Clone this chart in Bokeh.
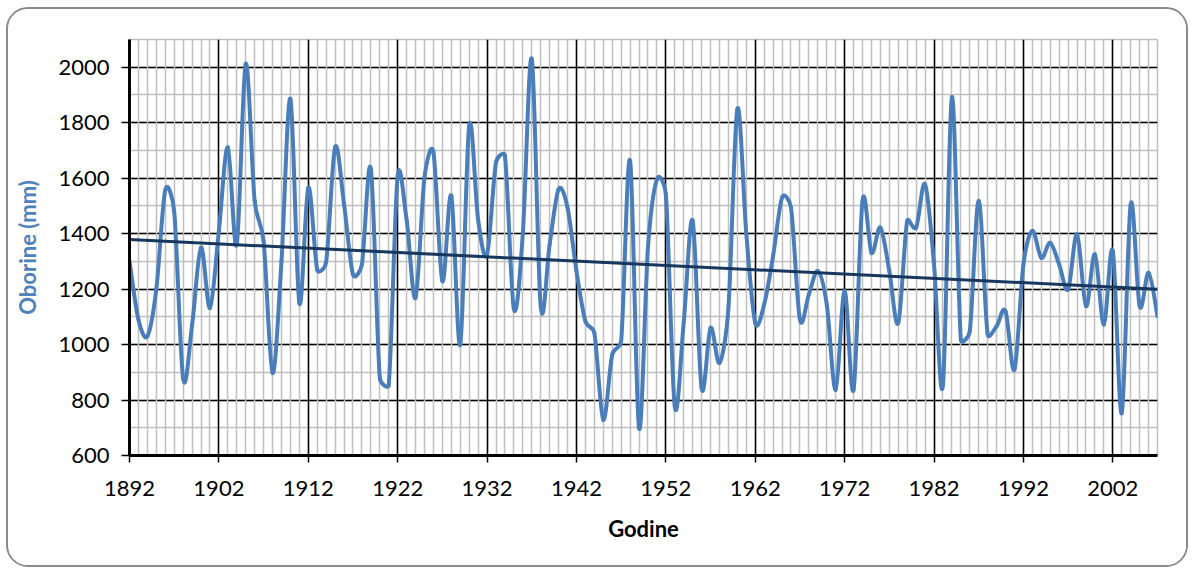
import numpy as np
from bokeh.plotting import figure
from bokeh.models import FixedTicker, Grid, ColumnDataSource
from bokeh.embed import file_html
from bokeh.resources import INLINE

years = list(range(1892, 2008))
precip = [
    1300, 1090, 1030, 1200, 1557, 1480, 878, 1070, 1350, 1132,   # 1892-1901
    1410, 1711, 1361, 2012, 1518, 1373, 898, 1300, 1886, 1150,   # 1902-1911
    1566, 1270, 1298, 1711, 1506, 1253, 1289, 1633, 880, 855,    # 1912-1921
    1608, 1450, 1169, 1602, 1693, 1229, 1536, 1000, 1789, 1450,  # 1922-1931
    1325, 1657, 1681, 1128, 1400, 2030, 1138, 1361, 1560, 1494,  # 1932-1941
    1265, 1084, 1042, 729, 964, 1012, 1663, 699, 1350, 1596,     # 1942-1951
    1542, 777, 1080, 1446, 843, 1060, 934, 1132, 1849, 1400,     # 1952-1961
    1078, 1145, 1320, 1530, 1494, 1090, 1181, 1265, 1145, 837,   # 1962-1971
    1193, 837, 1518, 1331, 1422, 1265, 1078, 1446, 1422, 1578,   # 1972-1981
    1289, 855, 1892, 1018, 1048, 1518, 1036, 1066, 1120, 910,    # 1982-1991
    1289, 1410, 1313, 1367, 1289, 1199, 1398, 1139, 1325, 1072,  # 1992-2001
    1337, 753, 1506, 1139, 1259, 1102,                           # 2002-2007
]
x_labels = [1892, 1902, 1912, 1922, 1932, 1942, 1952, 1962, 1972, 1982, 1992, 2002]
y_ticks = [600, 800, 1000, 1200, 1400, 1600, 1800, 2000]

FONT = "Lato"

p = figure(width=1182, height=560, x_range=(1892, 2007), y_range=(600, 2100),
           output_backend="svg", toolbar_location=None,
           min_border_left=121, min_border_right=33, min_border_top=30, min_border_bottom=114,
           background_fill_color="white", border_fill_color="white")
p.styles = {"border": "2px solid #8a8a8a", "border-radius": "22px", "overflow": "hidden",
            "margin-left": "6px", "margin-top": "7px"}
p.outline_line_color = "#BFBFBF"
p.outline_line_width = 1.5

p.xgrid.visible = False
p.ygrid.visible = False

xt = FixedTicker(ticks=x_labels, minor_ticks=years)
yt = FixedTicker(ticks=y_ticks, minor_ticks=list(range(600, 2101, 100)))

ygrid = Grid(dimension=1, ticker=yt, grid_line_color="black", grid_line_width=1.5,
             minor_grid_line_color="#BFBFBF", minor_grid_line_width=1.5)
xgrid = Grid(dimension=0, ticker=xt, grid_line_color="black", grid_line_width=1.5,
             minor_grid_line_color="#BFBFBF", minor_grid_line_width=1.5)
p.add_layout(ygrid)
p.add_layout(xgrid)

# Excel-style smoothed line: Bezier segments, control arms 1/6 of neighbour chord,
# capped at half the segment length (measured in screen proportions)
SX, SY = 8.936, 0.2764  # screen px per year / per mm, only for arm capping
xs = np.array(years, dtype=float)
ys = np.array(precip, dtype=float)
xp = np.concatenate([[xs[0]], xs, [xs[-1]]])
yp = np.concatenate([[ys[0]], ys, [ys[-1]]])


def dist(i, j):
    return np.hypot((xp[i] - xp[j]) * SX, (yp[i] - yp[j]) * SY)


segs = {k: [] for k in ("x0", "y0", "x1", "y1", "cx0", "cy0", "cx1", "cy1")}
n = len(xs)
for s in range(n - 1):
    i0, i1, i2, i3 = s, s + 1, s + 2, s + 3
    d12 = dist(i1, i2)
    d02 = dist(i0, i2)
    d13 = dist(i1, i3)
    f0 = 1 / 6 if (d02 / 6 < d12 / 2 or d02 == 0) else d12 / d02 / 2
    f3 = 1 / 6 if (d13 / 6 < d12 / 2 or d13 == 0) else d12 / d13 / 2
    segs["x0"].append(xp[i1]); segs["y0"].append(yp[i1])
    segs["x1"].append(xp[i2]); segs["y1"].append(yp[i2])
    segs["cx0"].append(xp[i1] + f0 * (xp[i2] - xp[i0]))
    segs["cy0"].append(yp[i1] + f0 * (yp[i2] - yp[i0]))
    segs["cx1"].append(xp[i2] - f3 * (xp[i3] - xp[i1]))
    segs["cy1"].append(yp[i2] - f3 * (yp[i3] - yp[i1]))
src = ColumnDataSource(segs)
p.bezier(x0="x0", y0="y0", x1="x1", y1="y1", cx0="cx0", cy0="cy0", cx1="cx1", cy1="cy1",
         source=src, line_color="#4A7EBB", line_width=4, line_cap="round")

# linear trend
k, b = np.polyfit(xs, ys, 1)
p.line([xs[0], xs[-1]], [k * xs[0] + b, k * xs[-1] + b], line_color="#17375E", line_width=3)

for ax in (p.xaxis[0], p.yaxis[0]):
    ax.axis_line_color = "black"
    ax.axis_line_width = 3
    ax.major_tick_line_color = "black"
    ax.major_tick_line_width = 1.5
    ax.major_tick_in = 0
    ax.major_tick_out = 7
    ax.minor_tick_line_color = None
    ax.major_label_text_font = FONT
    ax.major_label_text_font_size = "22px"
    ax.major_label_text_color = "black"
    ax.axis_label_text_font = FONT
    ax.axis_label_text_font_style = "bold"
    ax.axis_label_text_font_size = "22px"

p.xaxis[0].ticker = xt
p.yaxis[0].ticker = yt
p.yaxis[0].major_tick_out = 8
p.xaxis[0].major_label_standoff = 18
p.yaxis[0].major_label_standoff = 12
p.xaxis[0].axis_label = "Godine"
p.xaxis[0].axis_label_standoff = 16
p.xaxis[0].axis_label_text_color = "black"
p.yaxis[0].axis_label = "Oborine (mm)"
p.yaxis[0].axis_label_standoff = 14
p.yaxis[0].axis_label_text_color = "#4F81BD"

open("out.html", "w").write(file_html(p, INLINE))
